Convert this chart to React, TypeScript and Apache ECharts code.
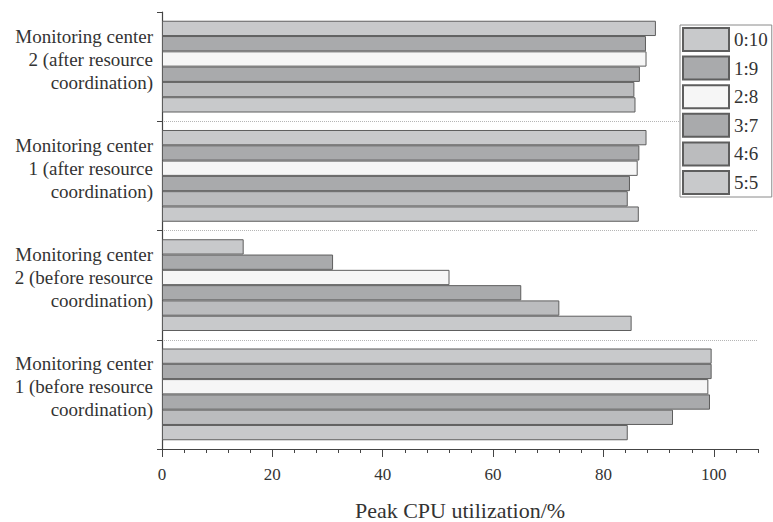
import React, { useEffect, useRef } from "react";
import * as echarts from "echarts";

const categories = [
  "Monitoring center\n1 (before resource\ncoordination)",
  "Monitoring center\n2 (before resource\ncoordination)",
  "Monitoring center\n1 (after resource\ncoordination)",
  "Monitoring center\n2 (after resource\ncoordination)",
];

const seriesNames = ["0:10", "1:9", "2:8", "3:7", "4:6", "5:5"];

const v0_10 = [99.6, 14.8, 87.8, 89.5];
const v1_9 = [99.6, 31.0, 86.5, 87.7];
const v2_8 = [99.0, 52.1, 86.2, 87.8];
const v3_7 = [99.3, 65.1, 84.8, 86.6];
const v4_6 = [92.6, 72.0, 84.4, 85.6];
const v5_5 = [84.4, 85.1, 86.4, 85.8];

const seriesValues = [v0_10, v1_9, v2_8, v3_7, v4_6, v5_5];
const seriesColors = ["#c8c9cb", "#a9aaac", "#f6f6f6", "#a9aaac", "#bbbcbe", "#c8c9cb"];

const xTickLabels = [0, 20, 40, 60, 80, 100];

const FONT = "'Liberation Serif', 'Times New Roman', serif";

export default function App() {
  const ref = useRef<HTMLDivElement>(null);
  useEffect(() => {
    if (!ref.current) return;
    const chart = echarts.init(ref.current, null, { renderer: "svg" });
    const series = seriesNames.map((name, i) => ({
      name,
      type: "bar",
      data: seriesValues[i],
      barGap: "0%",
      barCategoryGap: "16%",
      itemStyle: { color: seriesColors[i], borderColor: "#5e5e5e", borderWidth: 1 },
    }));
    chart.setOption({
      animation: false,
      backgroundColor: "#fff",
      textStyle: { fontFamily: FONT },
      grid: {
        left: 162,
        right: 15,
        top: 12,
        bottom: 73,
        containLabel: false,
        outerBoundsMode: "none",
      },
      legend: {
        data: seriesNames,
        orient: "vertical",
        left: 680,
        top: 25,
        itemWidth: 46,
        itemHeight: 23,
        itemGap: 3.6,
        padding: [2, 4, 2, 2],
        borderColor: "#8a8a8a",
        borderWidth: 1,
        backgroundColor: "#fff",
        icon: "rect",
        textStyle: { fontFamily: FONT, fontSize: 19, color: "#333" },
      },
      xAxis: [
        {
          type: "value",
          min: 0,
          max: 108,
          interval: 4,
          position: "bottom",
          axisLine: { show: true, lineStyle: { color: "#444", width: 1.2 } },
          axisTick: { show: true, length: 4, lineStyle: { color: "#444" } },
          axisLabel: {
            customValues: xTickLabels,
            fontFamily: FONT,
            fontSize: 17,
            color: "#333",
            margin: 17,
          },
          splitLine: { show: false },
          name: "Peak CPU utilization/%",
          nameLocation: "middle",
          nameGap: 50,
          nameTextStyle: { fontFamily: FONT, fontSize: 22, color: "#333" },
        },
        {
          type: "value",
          min: 0,
          max: 108,
          interval: 4,
          position: "bottom",
          axisLine: { show: false },
          axisTick: { show: true, customValues: xTickLabels, length: 8, lineStyle: { color: "#444" } },
          axisLabel: { show: false },
          splitLine: { show: false },
        },
      ],
      yAxis: {
        type: "category",
        data: categories,
        axisLine: { show: true, lineStyle: { color: "#444", width: 1.2 } },
        axisTick: { show: true, length: 5, lineStyle: { color: "#444" } },
        axisLabel: {
          fontFamily: FONT,
          fontSize: 19,
          lineHeight: 23,
          color: "#333",
          align: "right",
          margin: 9,
          formatter: (v: string) => v + "\n{s| }",
          rich: { s: { fontSize: 10, lineHeight: 15 } },
        },
        splitLine: {
          show: true,
          showMinLine: false,
          showMaxLine: false,
          lineStyle: { type: "dotted", color: "#b5b5b5", width: 1 },
        },
      },
      series,
    });
    return () => chart.dispose();
  }, []);
  return (
    <div
      ref={ref}
      style={{ position: "fixed", left: 0, top: 0, width: 773, height: 522 }}
    />
  );
}
